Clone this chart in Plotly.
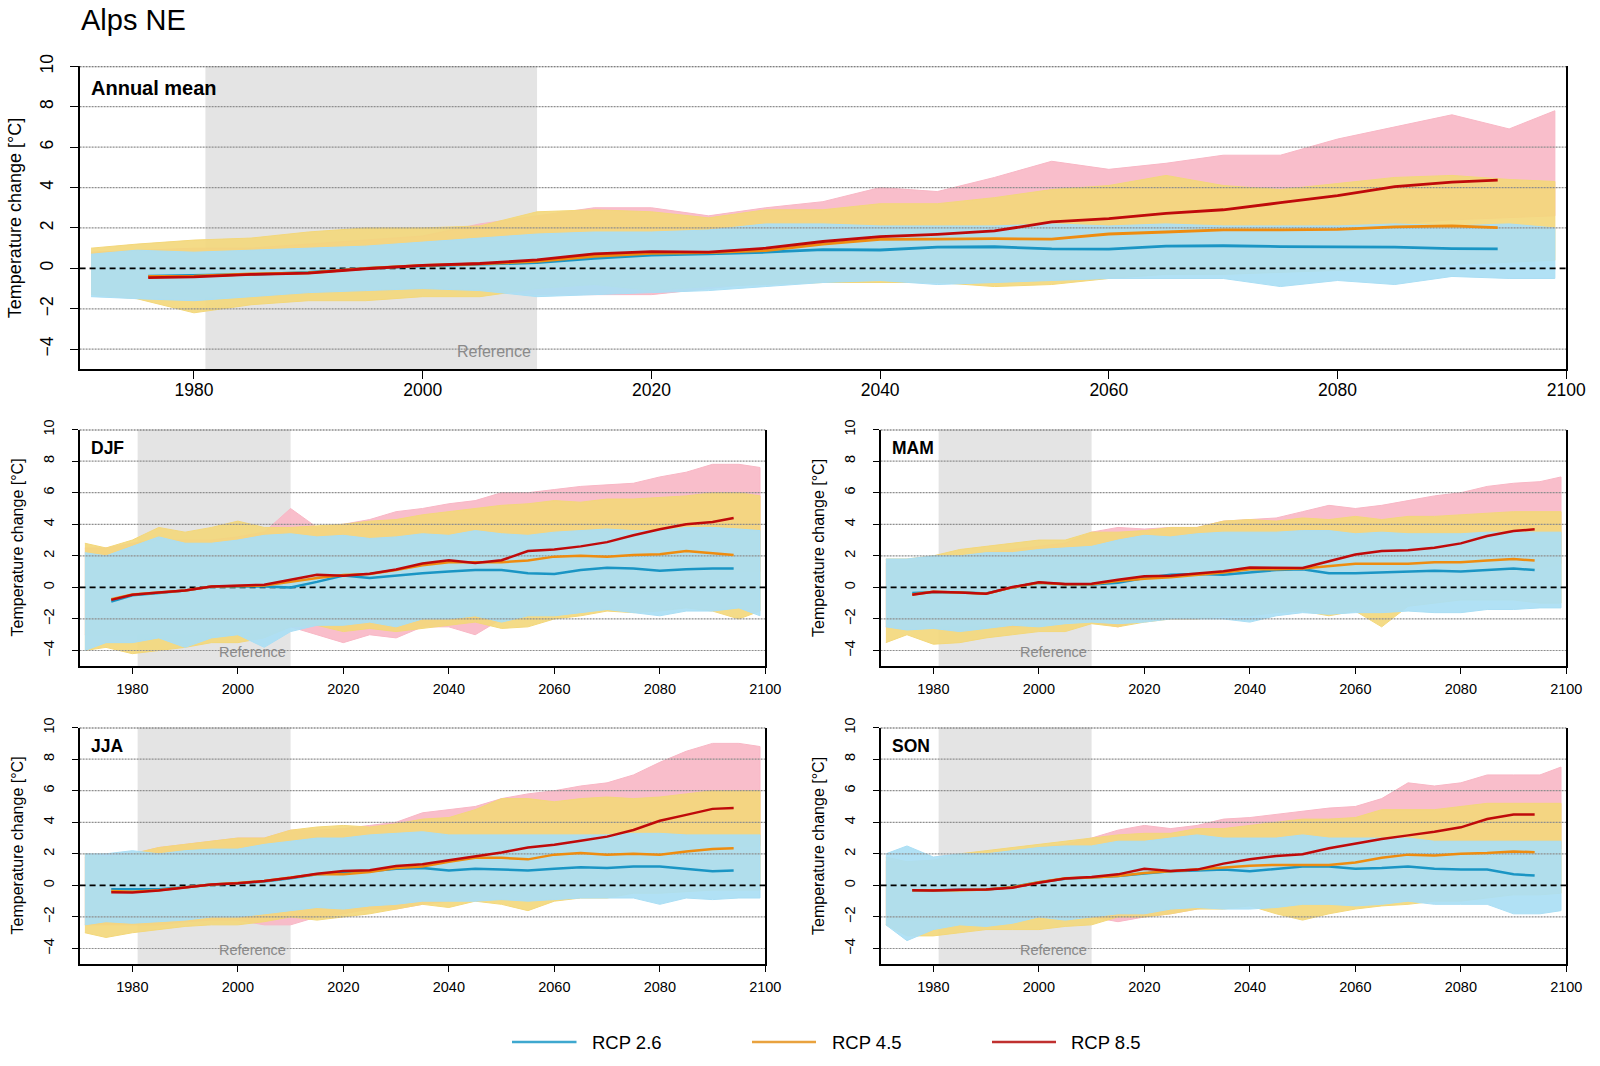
import plotly.graph_objects as go

# ---------------- data ----------------
YEARS_ENV = [1971, 1975, 1980, 1985, 1990, 1995, 2000, 2005, 2010, 2015, 2020, 2025, 2030, 2035,
             2040, 2045, 2050, 2055, 2060, 2065, 2070, 2075, 2080, 2085, 2090, 2095, 2099]
YEARS_MEAN = [1976, 1980, 1985, 1990, 1995, 2000, 2005, 2010, 2015, 2020, 2025, 2030, 2035,
              2040, 2045, 2050, 2055, 2060, 2065, 2070, 2075, 2080, 2085, 2090, 2094]

SCENARIOS = ["RCP 2.6", "RCP 4.5", "RCP 8.5"]
PANEL_NAMES = ["Annual mean", "DJF", "MAM", "JJA", "SON"]
X_TICKS = [1980, 2000, 2020, 2040, 2060, 2080, 2100]
Y_TICKS = [-4, -2, 0, 2, 4, 6, 8, 10]
GRID_VALUES = [-4, -2, 2, 4, 6, 8]
X_RANGE = [1970, 2100]
Y_RANGE = [-5, 10]
REF_PERIOD = [1981, 2010]

# Annual mean: ensemble spread (low / high) and ensemble means
ANN_26_LO = [-1.4,-1.5,-1.6,-1.4,-1.2,-1.1,-1.0,-1.1,-1.4,-1.3,-1.2,-1.1,-0.9,-0.7,-0.6,-0.8,-0.7,-0.6,-0.5,-0.5,-0.5,-0.9,-0.6,-0.8,-0.4,-0.5,-0.5]
ANN_26_HI = [0.7,0.9,0.8,0.9,1.0,1.1,1.3,1.5,1.7,1.8,1.8,1.9,2.2,2.2,2.1,2.1,2.1,2.2,2.1,2.2,2.1,2.1,2.1,2.2,2.1,2.2,2.0]
ANN_45_LO = [-1.3,-1.5,-2.2,-1.8,-1.6,-1.6,-1.4,-1.4,-1.0,-0.8,-1.1,-0.9,-0.8,-0.7,-0.7,-0.7,-0.9,-0.8,-0.5,-0.3,-0.3,-0.2,-0.1,0.0,0.2,0.3,0.4]
ANN_45_HI = [1.0,1.2,1.4,1.5,1.8,2.0,2.0,2.1,2.8,2.9,2.8,2.5,2.9,2.9,3.2,3.2,3.5,3.9,4.1,4.6,4.1,3.9,4.2,4.5,4.6,4.4,4.3]
ANN_85_LO = [-1.2,-1.3,-1.4,-1.4,-1.2,-1.1,-1.0,-1.0,-1.3,-1.3,-1.3,-1.0,-0.7,-0.4,-0.2,0.0,0.3,0.6,0.9,1.1,1.3,1.6,1.9,2.2,2.4,2.5,2.6]
ANN_85_HI = [0.8,0.9,1.0,1.0,1.2,1.4,1.6,2.2,2.6,3.0,3.0,2.6,3.0,3.3,4.0,3.8,4.5,5.3,4.9,5.2,5.6,5.6,6.4,7.0,7.6,6.9,7.8]
ANN_M26 = [-0.38,-0.35,-0.3,-0.2,0.0,0.12,0.2,0.28,0.5,0.66,0.72,0.8,0.93,0.91,1.05,1.07,0.96,0.95,1.1,1.12,1.08,1.08,1.05,0.98,0.96]
ANN_M45 = [-0.4,-0.38,-0.28,-0.22,0.0,0.15,0.22,0.35,0.6,0.74,0.78,0.88,1.2,1.44,1.45,1.47,1.45,1.7,1.8,1.9,1.9,1.93,2.05,2.1,2.02]
ANN_M85 = [-0.46,-0.42,-0.3,-0.24,-0.02,0.15,0.24,0.42,0.72,0.83,0.8,1.0,1.33,1.57,1.68,1.85,2.3,2.46,2.72,2.9,3.25,3.6,4.05,4.27,4.37]

# DJF
DJF_26_LO = [-4.0,-3.5,-3.5,-3.2,-3.8,-3.2,-3.0,-3.8,-2.8,-2.4,-2.4,-2.2,-2.5,-2.0,-2.0,-1.8,-2.2,-1.8,-1.8,-1.6,-1.4,-1.6,-1.8,-1.5,-1.5,-1.3,-1.8]
DJF_26_HI = [2.2,2.0,2.6,3.2,2.8,2.8,3.0,3.3,3.4,3.2,3.3,3.1,3.2,3.4,3.3,3.6,3.4,3.3,3.5,3.6,3.7,3.6,3.6,3.8,3.8,3.7,3.6]
DJF_45_LO = [-4.0,-3.8,-4.2,-4.0,-3.8,-3.5,-3.5,-3.2,-2.5,-2.4,-2.8,-2.6,-2.8,-2.6,-2.4,-2.2,-2.6,-2.5,-2.0,-1.8,-1.5,-1.6,-1.5,-1.3,-1.5,-2.0,-1.5]
DJF_45_HI = [2.8,2.5,3.0,3.8,3.5,3.8,4.2,3.8,3.8,3.9,4.0,4.2,4.3,4.6,4.8,5.0,5.2,5.3,5.5,5.4,5.6,5.6,5.7,5.8,6.0,6.0,5.8]
DJF_85_LO = [-3.0,-3.0,-3.0,-3.0,-3.0,-2.8,-2.8,-3.0,-2.5,-3.0,-3.5,-3.0,-3.2,-2.5,-2.5,-3.0,-2.0,-1.8,-1.5,-1.0,-0.8,-0.5,-0.2,0.3,0.5,1.0,1.0]
DJF_85_HI = [2.5,2.5,2.8,3.0,3.0,3.0,3.2,3.5,5.0,3.8,4.0,4.3,4.8,5.0,5.3,5.5,6.0,6.0,6.2,6.4,6.5,6.6,7.0,7.3,7.8,7.8,7.6]
DJF_M26 = [-0.9,-0.5,-0.35,-0.2,0.05,0.08,0.05,0.0,0.35,0.75,0.6,0.75,0.9,1.0,1.1,1.1,0.9,0.85,1.1,1.25,1.2,1.05,1.15,1.2,1.2]
DJF_M45 = [-0.75,-0.45,-0.32,-0.2,0.05,0.1,0.12,0.35,0.6,0.78,0.85,1.1,1.4,1.6,1.6,1.6,1.7,1.95,2.0,1.95,2.05,2.1,2.3,2.15,2.05]
DJF_M85 = [-0.79,-0.47,-0.32,-0.19,0.06,0.1,0.17,0.49,0.8,0.74,0.87,1.13,1.51,1.72,1.55,1.72,2.3,2.4,2.6,2.87,3.3,3.68,4.0,4.15,4.4]

# MAM
MAM_26_LO = [-2.5,-2.7,-2.6,-2.8,-2.6,-2.4,-2.5,-2.3,-2.2,-2.3,-2.2,-2.0,-2.0,-2.0,-2.2,-1.8,-1.6,-1.7,-1.6,-1.6,-1.5,-1.6,-1.6,-1.4,-1.4,-1.3,-1.3]
MAM_26_HI = [1.8,1.8,2.0,2.0,2.2,2.2,2.4,2.5,2.6,3.0,3.3,3.2,3.4,3.5,3.5,3.5,3.6,3.6,3.4,3.5,3.4,3.4,3.4,3.5,3.5,3.5,3.5]
MAM_45_LO = [-3.5,-3.0,-3.6,-3.5,-3.2,-3.0,-2.8,-2.8,-2.3,-2.5,-2.2,-2.0,-2.0,-1.8,-1.8,-1.6,-1.5,-1.8,-1.5,-2.5,-1.2,-1.0,-0.8,-0.8,-0.8,-1.0,-1.0]
MAM_45_HI = [1.8,1.8,2.0,2.4,2.6,2.8,3.0,3.0,3.5,3.5,3.6,3.8,3.8,4.2,4.3,4.2,4.4,4.3,4.5,4.3,4.5,4.5,4.6,4.7,4.8,4.8,4.8]
MAM_85_LO = [-2.5,-2.5,-2.5,-2.5,-2.5,-2.5,-2.3,-2.2,-2.2,-2.5,-2.0,-2.0,-2.0,-1.8,-1.7,-1.5,-1.3,-1.5,-1.3,-1.0,-0.6,-0.3,-0.2,0.5,0.8,1.2,1.5]
MAM_85_HI = [1.5,1.5,1.8,2.0,2.2,2.4,2.6,2.8,3.5,3.8,3.7,3.8,3.8,4.2,4.3,4.4,4.8,5.2,5.0,5.2,5.5,5.8,6.0,6.4,6.6,6.7,7.0]
MAM_M26 = [-0.35,-0.3,-0.3,-0.38,0.0,0.3,0.2,0.18,0.3,0.6,0.8,0.85,0.8,0.95,1.1,1.15,0.9,0.9,0.95,1.0,1.05,1.0,1.1,1.2,1.1]
MAM_M45 = [-0.45,-0.28,-0.32,-0.4,0.0,0.3,0.2,0.2,0.4,0.55,0.65,0.8,0.95,1.15,1.15,1.2,1.35,1.5,1.5,1.5,1.6,1.6,1.7,1.8,1.7]
MAM_M85 = [-0.47,-0.28,-0.32,-0.4,0.02,0.32,0.21,0.23,0.49,0.7,0.74,0.87,1.02,1.26,1.26,1.23,1.66,2.09,2.3,2.36,2.51,2.79,3.26,3.57,3.68]

# JJA
JJA_26_LO = [-2.5,-2.3,-2.4,-2.3,-2.2,-2.0,-2.0,-1.8,-1.6,-1.4,-1.5,-1.3,-1.2,-1.0,-1.0,-1.0,-0.9,-1.0,-0.9,-0.8,-0.8,-0.8,-1.2,-0.8,-0.9,-0.8,-0.8]
JJA_26_HI = [2.0,2.0,2.2,2.0,2.2,2.3,2.3,2.6,2.8,3.0,3.0,3.2,3.3,3.4,3.2,3.2,3.2,3.2,3.2,3.2,3.2,3.3,3.3,3.2,3.2,3.2,3.2]
JJA_45_LO = [-3.0,-3.3,-3.0,-2.8,-2.6,-2.5,-2.5,-2.3,-2.0,-2.2,-2.0,-1.8,-1.5,-1.2,-1.4,-1.0,-1.2,-1.6,-1.0,-0.8,-0.8,-0.5,-0.5,-0.4,-0.3,-0.3,-0.3]
JJA_45_HI = [2.0,1.8,2.0,2.4,2.6,2.8,3.0,3.0,3.5,3.7,3.8,3.7,3.9,4.2,4.3,4.8,5.5,5.5,5.3,5.5,5.6,5.5,5.6,5.8,6.0,6.0,6.0]
JJA_85_LO = [-2.5,-2.5,-2.5,-2.5,-2.3,-2.2,-2.2,-2.5,-2.5,-2.0,-1.8,-1.5,-1.5,-1.2,-1.0,-0.8,-0.5,-0.3,0.0,0.3,0.6,1.0,1.4,1.8,2.2,2.5,2.5]
JJA_85_HI = [1.8,2.0,2.0,2.4,2.6,2.8,3.0,3.0,3.5,3.5,3.6,3.8,4.0,4.6,4.8,5.0,5.5,5.8,6.0,6.3,6.5,7.0,7.8,8.5,9.0,9.0,8.8]
JJA_M26 = [-0.25,-0.25,-0.25,-0.12,0.05,0.12,0.25,0.45,0.7,0.8,0.9,1.05,1.1,0.95,1.05,1.0,0.95,1.05,1.15,1.1,1.2,1.2,1.05,0.9,0.95]
JJA_M45 = [-0.35,-0.4,-0.3,-0.12,0.05,0.15,0.28,0.5,0.7,0.7,0.85,1.1,1.2,1.5,1.75,1.75,1.65,1.95,2.05,1.95,2.0,1.95,2.15,2.3,2.35]
JJA_M85 = [-0.43,-0.45,-0.32,-0.11,0.06,0.13,0.28,0.49,0.74,0.91,0.96,1.23,1.34,1.6,1.83,2.09,2.4,2.57,2.83,3.09,3.51,4.1,4.47,4.85,4.91]

# SON
SON_26_LO = [-2.5,-3.5,-2.8,-2.5,-2.6,-2.4,-2.0,-2.2,-2.0,-1.8,-1.8,-1.5,-1.4,-1.5,-1.5,-1.4,-1.2,-1.2,-1.3,-1.2,-1.0,-1.2,-1.2,-1.2,-1.8,-1.8,-1.6]
SON_26_HI = [2.0,2.5,1.8,2.0,2.0,2.2,2.4,2.5,2.5,2.8,2.8,3.0,3.2,3.0,3.0,3.0,3.2,3.0,3.0,3.0,3.0,2.8,2.8,2.8,2.8,2.8,2.8]
SON_45_LO = [-2.5,-3.2,-3.2,-3.0,-2.8,-2.8,-2.8,-2.6,-2.5,-2.0,-2.0,-1.8,-1.5,-1.5,-1.3,-1.8,-2.2,-1.8,-1.5,-1.3,-1.2,-1.0,-1.0,-0.8,-0.6,-0.6,-0.5]
SON_45_HI = [1.8,1.5,1.6,2.0,2.2,2.4,2.6,2.8,3.0,3.2,3.3,3.3,3.6,3.6,3.8,4.0,4.2,4.2,4.3,4.8,4.8,4.8,5.0,5.2,5.2,5.2,5.2]
SON_85_LO = [-2.0,-2.2,-2.2,-2.2,-2.2,-2.2,-2.0,-2.0,-2.0,-2.3,-2.0,-1.8,-1.5,-1.2,-1.0,-0.8,-0.5,-0.2,0.0,0.3,0.6,0.9,1.2,1.6,2.0,2.3,2.3]
SON_85_HI = [1.5,1.5,1.6,1.8,2.0,2.2,2.4,2.6,3.0,3.5,3.8,3.6,3.8,4.2,4.3,4.5,4.7,4.9,5.0,5.5,6.5,6.3,6.5,7.0,7.0,7.0,7.5]
SON_M26 = [-0.3,-0.32,-0.28,-0.26,-0.1,0.2,0.42,0.5,0.6,0.75,0.9,0.95,1.0,0.9,1.05,1.2,1.2,1.05,1.1,1.2,1.05,1.0,1.0,0.7,0.62]
SON_M45 = [-0.3,-0.32,-0.3,-0.26,-0.12,0.2,0.45,0.5,0.6,0.78,0.9,1.0,1.1,1.25,1.3,1.3,1.3,1.45,1.75,1.95,1.9,2.0,2.05,2.15,2.1]
SON_M85 = [-0.3,-0.32,-0.28,-0.26,-0.15,0.17,0.43,0.53,0.7,1.06,0.91,1.0,1.38,1.66,1.87,1.98,2.36,2.66,2.94,3.17,3.4,3.68,4.21,4.49,4.49]

# ---------------- styling ----------------
FONT = "Liberation Sans, Arial, sans-serif"
SPREAD_RGB = {"RCP 2.6": "170,222,244", "RCP 4.5": "243,215,122", "RCP 8.5": "248,183,197"}
SPREAD_ALPHA = {"RCP 2.6": 0.92, "RCP 4.5": 0.9, "RCP 8.5": 0.9}
MEAN_COLORS = {"RCP 2.6": "#1a95c4", "RCP 4.5": "#ee8c10", "RCP 8.5": "#bf0a0a"}
LEGEND_COLORS = {"RCP 2.6": "#3ea8cf", "RCP 4.5": "#e9a23e", "RCP 8.5": "#c0302f"}

W, H = 1600, 1066


def px(x):
    return x / W


def py(y):
    return 1 - y / H


panels = [
    dict(name="Annual mean", n="", xd=[px(79.6), px(1566.3)], yd=[py(369.4), py(66.3)], big=True,
         spread={"RCP 2.6": (ANN_26_LO, ANN_26_HI), "RCP 4.5": (ANN_45_LO, ANN_45_HI), "RCP 8.5": (ANN_85_LO, ANN_85_HI)},
         means={"RCP 2.6": ANN_M26, "RCP 4.5": ANN_M45, "RCP 8.5": ANN_M85}, ytitle_x=15.3),
    dict(name="DJF", n="2", xd=[px(79.6), px(765.3)], yd=[py(666.3), py(429.6)], big=False,
         spread={"RCP 2.6": (DJF_26_LO, DJF_26_HI), "RCP 4.5": (DJF_45_LO, DJF_45_HI), "RCP 8.5": (DJF_85_LO, DJF_85_HI)},
         means={"RCP 2.6": DJF_M26, "RCP 4.5": DJF_M45, "RCP 8.5": DJF_M85}, ytitle_x=17.5),
    dict(name="MAM", n="3", xd=[px(880.6), px(1566.3)], yd=[py(666.3), py(429.6)], big=False,
         spread={"RCP 2.6": (MAM_26_LO, MAM_26_HI), "RCP 4.5": (MAM_45_LO, MAM_45_HI), "RCP 8.5": (MAM_85_LO, MAM_85_HI)},
         means={"RCP 2.6": MAM_M26, "RCP 4.5": MAM_M45, "RCP 8.5": MAM_M85}, ytitle_x=819.0),
    dict(name="JJA", n="4", xd=[px(79.6), px(765.3)], yd=[py(964.3), py(727.6)], big=False,
         spread={"RCP 2.6": (JJA_26_LO, JJA_26_HI), "RCP 4.5": (JJA_45_LO, JJA_45_HI), "RCP 8.5": (JJA_85_LO, JJA_85_HI)},
         means={"RCP 2.6": JJA_M26, "RCP 4.5": JJA_M45, "RCP 8.5": JJA_M85}, ytitle_x=17.5),
    dict(name="SON", n="5", xd=[px(880.6), px(1566.3)], yd=[py(964.3), py(727.6)], big=False,
         spread={"RCP 2.6": (SON_26_LO, SON_26_HI), "RCP 4.5": (SON_45_LO, SON_45_HI), "RCP 8.5": (SON_85_LO, SON_85_HI)},
         means={"RCP 2.6": SON_M26, "RCP 4.5": SON_M45, "RCP 8.5": SON_M85}, ytitle_x=819.0),
]

fig = go.Figure()
shapes = []
annotations = []
layout_axes = {}

for p in panels:
    xa, ya = "x" + p["n"], "y" + p["n"]
    xkey, ykey = "xaxis" + p["n"], "yaxis" + p["n"]
    big = p["big"]
    tick_font = 17.5 if big else 14.5
    ticklen = 8 if big else 6

    # ensemble spread: RCP8.5 at the back, RCP2.6 on top
    for sc in ["RCP 8.5", "RCP 4.5", "RCP 2.6"]:
        lo, hi = p["spread"][sc]
        rgb = SPREAD_RGB[sc]
        fig.add_trace(go.Scatter(
            x=YEARS_ENV + YEARS_ENV[::-1], y=hi + lo[::-1],
            mode="lines", fill="toself", fillcolor=f"rgba({rgb},{SPREAD_ALPHA[sc]})",
            line=dict(color=f"rgba({rgb},1)", width=1),
            xaxis=xa, yaxis=ya, showlegend=False, hoverinfo="skip"))

    # horizontal grid lines drawn over the spread (as in the original)
    for g in GRID_VALUES:
        fig.add_trace(go.Scatter(x=X_RANGE, y=[g, g], mode="lines",
                                 line=dict(color="#8e8e8e", width=1.2, dash="2px,1px"),
                                 xaxis=xa, yaxis=ya, showlegend=False, hoverinfo="skip"))

    # zero reference line
    fig.add_trace(go.Scatter(x=X_RANGE, y=[0, 0], mode="lines",
                             line=dict(color="black", width=1.6, dash="6px,4px"),
                             xaxis=xa, yaxis=ya, showlegend=False, hoverinfo="skip"))

    # ensemble means
    for sc in ["RCP 2.6", "RCP 4.5", "RCP 8.5"]:
        fig.add_trace(go.Scatter(x=YEARS_MEAN, y=p["means"][sc], mode="lines",
                                 line=dict(color=MEAN_COLORS[sc], width=2.8 if big else 2.5),
                                 xaxis=xa, yaxis=ya, showlegend=False, name=sc))

    layout_axes[xkey] = dict(domain=p["xd"], anchor=ya, range=X_RANGE, tickvals=X_TICKS,
                             ticks="outside", ticklen=ticklen, tickwidth=1.2, tickcolor="black",
                             showline=True, linecolor="black", linewidth=1.6, mirror=False,
                             showgrid=False, zeroline=False, automargin=False,
                             tickfont=dict(family=FONT, size=tick_font, color="black"),
                             ticklabelstandoff=-4 if big else 2)
    layout_axes[ykey] = dict(domain=p["yd"], anchor=xa, range=Y_RANGE, tickvals=Y_TICKS,
                             ticks="outside", ticklen=ticklen, tickwidth=1.2, tickcolor="black",
                             showline=True, linecolor="black", linewidth=1.6, mirror=True,
                             showgrid=False, zeroline=False, tickangle=-90, automargin=False,
                             tickfont=dict(family=FONT, size=tick_font, color="black"),
                             ticklabelstandoff=10 if big else 12)

    # reference period shading
    shapes.append(dict(type="rect", xref=xa, yref=ya + " domain", x0=REF_PERIOD[0], x1=REF_PERIOD[1],
                       y0=0, y1=1, fillcolor="#e4e4e4", line=dict(width=0), layer="below"))
    # top frame line (dark dotted)
    shapes.append(dict(type="line", xref=xa + " domain", yref=ya, x0=0, x1=1, y0=Y_RANGE[1], y1=Y_RANGE[1],
                       line=dict(color="#555555", width=2, dash="2px,1px"), layer="above"))

    # panel label
    annotations.append(dict(text=f"<b>{p['name']}</b>", xref=xa + " domain", yref=ya + " domain",
                            x=0, y=1, xanchor="left", yanchor="middle",
                            xshift=9, yshift=-21.5 if big else -18.5, showarrow=False,
                            font=dict(family=FONT, size=20 if big else 17.5, color="black")))
    # reference label
    annotations.append(dict(text="Reference", xref=xa, yref=ya + " domain",
                            x=REF_PERIOD[1], y=0, xanchor="right", yanchor="middle",
                            xshift=-4 if big else -3, yshift=18 if big else 14, showarrow=False,
                            font=dict(family=FONT, size=16 if big else 14.5, color="#8a8a8a")))
    # y-axis title
    annotations.append(dict(text="Temperature change [°C]", xref="paper", yref="paper",
                            x=px(p["ytitle_x"]), y=(p["yd"][0] + p["yd"][1]) / 2,
                            xanchor="center", yanchor="middle", textangle=-90, showarrow=False,
                            font=dict(family=FONT, size=18 if big else 16, color="black")))

# figure title
annotations.append(dict(text="Alps NE", xref="paper", yref="paper", x=px(79), y=py(19.5),
                        xanchor="left", yanchor="middle", showarrow=False,
                        font=dict(family=FONT, size=29, color="black")))

# legend (drawn manually)
leg_y = py(1042)
leg_pos = {"RCP 2.6": (512, 576.5, 590), "RCP 4.5": (752, 816, 830), "RCP 8.5": (992, 1056, 1069)}
for sc in SCENARIOS:
    x0, x1, xt = leg_pos[sc]
    shapes.append(dict(type="line", xref="paper", yref="paper", x0=px(x0), x1=px(x1), y0=leg_y, y1=leg_y,
                       line=dict(color=LEGEND_COLORS[sc], width=2.4)))
    annotations.append(dict(text=sc, xref="paper", yref="paper", x=px(xt), y=leg_y,
                            xanchor="left", yanchor="middle", showarrow=False,
                            font=dict(family=FONT, size=18.5, color="black")))

fig.update_layout(
    width=W, height=H, autosize=False,
    margin=dict(l=0, r=0, t=0, b=0, pad=0, autoexpand=False),
    paper_bgcolor="white", plot_bgcolor="white",
    showlegend=False,
    shapes=shapes, annotations=annotations,
    font=dict(family=FONT, color="black"),
    **layout_axes,
)

fig.write_html("out.html", config={"displayModeBar": False},
               post_script="document.body.style.margin='0';document.body.style.overflow='hidden';")
